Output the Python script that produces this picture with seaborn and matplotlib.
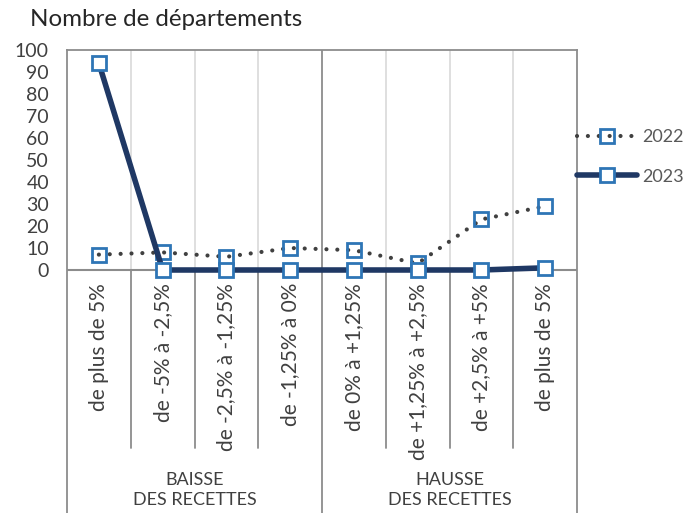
import matplotlib
matplotlib.use("Agg")
import matplotlib.pyplot as plt
import seaborn as sns
import pandas as pd
import numpy as np

categories = ["de plus de 5%", "de -5% à -2,5%", "de -2,5% à -1,25%", "de -1,25% à 0%",
              "de 0% à +1,25%", "de +1,25% à +2,5%", "de +2,5% à +5%", "de plus de 5%"]
values_2022 = [7, 8, 6, 10, 9, 3, 23, 29]
values_2023 = [94, 0, 0, 0, 0, 0, 0, 1]
groups = ["BAISSE\nDES RECETTES", "HAUSSE\nDES RECETTES"]
yticks = list(range(0, 101, 10))

sns.set_theme(style="white")
plt.rcParams["font.family"] = ["Lato", "DejaVu Sans"]

W, H = 690, 513
fig = plt.figure(figsize=(W / 100, H / 100), dpi=100)
left_px, right_px, top_px, zero_px = 67, 577, 50, 270
ppu = (zero_px - top_px) / 100.0
ybottom = -(H - zero_px) / ppu
ax = fig.add_axes([left_px / W, 0, (right_px - left_px) / W, (H - top_px) / H])

pos = np.arange(len(categories))
df = pd.DataFrame({"pos": np.concatenate([pos, pos]),
                   "val": values_2022 + values_2023,
                   "serie": ["2022"] * len(pos) + ["2023"] * len(pos)})

d22 = df[df.serie == "2022"]
d23 = df[df.serie == "2023"]
sns.lineplot(data=d22, x="pos", y="val", ax=ax, color="#404040", lw=3.0,
             linestyle=(0, (0.01, 2.6)),
             marker="s", markersize=9.5, markerfacecolor="none", markeredgecolor="#2E75B6",
             markeredgewidth=2, label="2022", clip_on=False, zorder=4)
ax.lines[-1].set_dash_capstyle("round")
sns.lineplot(data=d23, x="pos", y="val", ax=ax, color="#1F3864", lw=4.0,
             marker="s", markersize=9.5, markerfacecolor="white", markeredgecolor="#2E75B6",
             markeredgewidth=2, label="2023", clip_on=False, zorder=5)

ax.set_xlim(-0.5, len(categories) - 0.5)
ax.set_ylim(ybottom, 100)
ax.set_yticks(yticks)
ax.set_yticklabels([str(t) for t in yticks], fontsize=14, color="#404040")
ax.tick_params(axis="y", length=0, pad=13)
ax.set_xticks([])
ax.set_xlabel("")
ax.set_ylabel("")

for s in ["left", "right", "top"]:
    ax.spines[s].set_color("#8c8c8c")
    ax.spines[s].set_linewidth(1.3)
ax.spines["bottom"].set_visible(False)

sep_bottom = -(448 - zero_px) / ppu
for i in range(len(categories) - 1):
    x = i + 0.5
    if i == 3:
        ax.plot([x, x], [ybottom, 100], color="#8c8c8c", lw=1.3, zorder=1)
    else:
        ax.plot([x, x], [0, 100], color="#d9d9d9", lw=1.2, zorder=1)
        ax.plot([x, x], [sep_bottom, 0], color="#8c8c8c", lw=1.3, zorder=1)
ax.axhline(0, color="#8c8c8c", lw=1.5, zorder=2)

for x, lab in zip(pos, categories):
    ax.text(x, -(283 - zero_px) / ppu, lab, rotation=90, ha="center", va="top",
            fontsize=15, color="#404040")

for gi, g in enumerate(groups):
    ax.text(gi * 4 + 1.5, -(490 - zero_px) / ppu, g, ha="center", va="center",
            fontsize=13, color="#404040", linespacing=1.3)

fig.text(30 / W, 1 - 20 / H, "Nombre de départements", fontsize=17.4, color="#262626",
         ha="left", va="center")

if ax.get_legend():
    ax.get_legend().remove()
handles, labels = ax.get_legend_handles_labels()
leg = fig.legend(handles, labels, loc="center left", bbox_to_anchor=(577 / W, 1 - 157 / H),
                 frameon=False, fontsize=13, handlelength=3.3, handletextpad=0.3,
                 labelspacing=1.3, borderpad=0, borderaxespad=0)
for t in leg.get_texts():
    t.set_color("#595959")

fig.savefig("out.png", dpi=100)
